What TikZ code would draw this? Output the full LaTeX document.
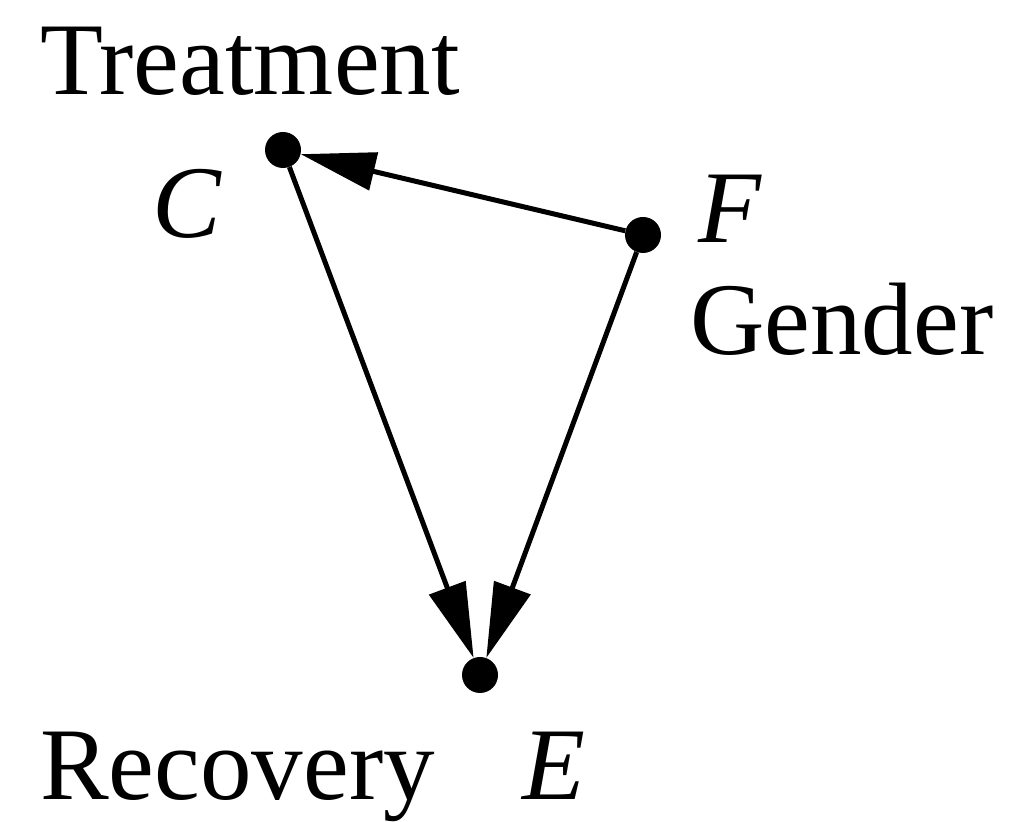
\documentclass[tikz,border=0pt]{standalone}
\usepackage{fontspec}
\setmainfont{Liberation Serif}
\usetikzlibrary{arrows.meta}
\begin{document}
\begin{tikzpicture}[x=1pt,y=1pt,
  dot/.style={circle,fill=black,inner sep=0pt,minimum size=36pt},
  lbl/.style={anchor=base west,inner sep=0pt,font=\fontsize{103}{110}\selectfont},
  arr/.style={line width=5pt,-{Triangle[length=75pt,width=38pt]}}]
\useasboundingbox (0,0) rectangle (1013,822);
\node[dot] (C) at (283,672) {};
\node[dot] (F) at (643,587) {};
\node[dot] (E) at (480,147) {};
\node[lbl] (tr) at (40,727) {Treatment};
\node[lbl] (cl) at (152,584) {\itshape C};
\node[lbl] (fl) at (698,579) {\itshape F};
\node[lbl] (ge) at (690,467) {Gender};
\node[lbl] (re) at (40,22) {Recovery};
\node[lbl] (el) at (522,22) {\itshape E};
\draw[arr] (F) -- (C);
\draw[arr] (C) -- (E);
\draw[arr] (F) -- (E);
\end{tikzpicture}
\end{document}
